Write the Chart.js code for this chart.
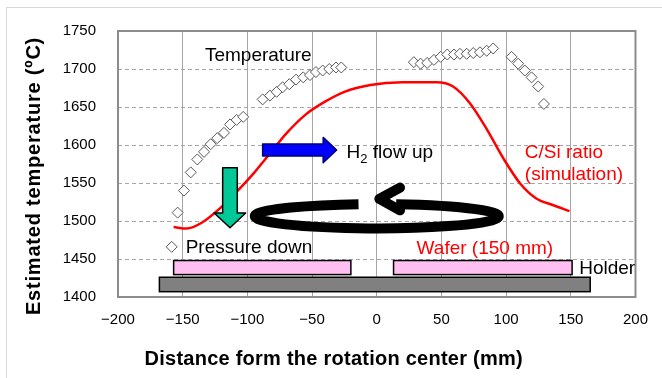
<!DOCTYPE html>
<html>
<head>
<meta charset="utf-8">
<script src="https://cdn.jsdelivr.net/npm/chart.js@4.4.0/dist/chart.umd.min.js"></script>
<style>
  html, body { margin: 0; padding: 0; background: #fff; }
  #wrap { width: 662px; height: 378px; }
</style>
</head>
<body>
<div id="wrap"><canvas id="chart" width="662" height="378"></canvas></div>
<script>
// measured temperature along the radius (open diamonds)
const tempX = [-158.5, -153.9, -149, -143.8, -138.7, -133.5, -128.4, -123.3, -118.1, -113.4, -108.3, -103.2,
  -88.2, -82.5, -77.4, -72.7, -67.6, -62.4, -56.8, -51.6, -47, -41.8, -36.7, -31.5, -27.4,
  28.7, 33.9, 39, 44.2, 49.4, 54.5, 59.7, 64.3, 69.5, 74.6, 79.8, 85, 90,
  104.2, 109.3, 114.5, 119.7, 124.8, 129.2];
const tempY = [1466, 1511, 1540, 1564, 1581, 1591, 1601, 1609, 1616, 1627, 1633, 1637,
  1660, 1665, 1670, 1676, 1680, 1686, 1689, 1692, 1696, 1698, 1700, 1702, 1702,
  1709, 1707, 1708, 1712, 1716, 1719, 1719, 1720, 1720, 1721, 1722, 1724, 1727,
  1716, 1707, 1698, 1689, 1677, 1654];

// C/Si ratio from simulation (red curve, drawn on the same scale)
const ratioX = [-157, -147, -135, -121, -108, -95, -82, -70, -55, -40, -25, -5, 20, 46, 59, 72, 85, 98, 111, 123, 136, 149];
const ratioY = [1492, 1490, 1498, 1517, 1539, 1563, 1590, 1615, 1640, 1657, 1670, 1679, 1682.5, 1682.5, 1677, 1655, 1621, 1582, 1549, 1530, 1521, 1513];

const xTicks = [-200, -150, -100, -50, 0, 50, 100, 150, 200];
const yTicks = [1400, 1450, 1500, 1550, 1600, 1650, 1700, 1750];

const FONT = '"Liberation Sans", Arial, sans-serif';

// schematic drawn on top, in data units
const boxes = [
  { x0: -168, x1: 165, y0: 1407, y1: 1426, fill: '#808080' },   // holder
  { x0: -157, x1: -20, y0: 1429.5, y1: 1448, fill: '#ffbff0' }, // wafer
  { x0: 13, x1: 151, y0: 1429.5, y1: 1448, fill: '#ffbff0' }
];
const notes = [
  { text: 'Temperature', x: -132.8, y: 1710, color: '#000' },
  { text: 'Pressure down', x: -147.7, y: 1457.4, color: '#000' },
  { text: 'C/Si ratio', x: 114.5, y: 1582.8, color: '#ff0000' },
  { text: '(simulation)', x: 114.5, y: 1554, color: '#ff0000' },
  { text: 'Wafer (150 mm)', x: 30.8, y: 1457, color: '#ff0000' },
  { text: 'Holder', x: 156.5, y: 1430.7, color: '#000' }
];
const blueArrow = [[-88.2, 1601.3], [-41.4, 1601.3], [-41.4, 1610], [-31, 1593.4], [-41.4, 1576.7], [-41.4, 1585.4], [-88.2, 1585.4]];
const greenArrow = [[-119.1, 1570.2], [-107.8, 1570.2], [-107.8, 1510.6], [-101.3, 1510.6], [-113.4, 1491.1], [-125.7, 1510.6], [-119.1, 1510.6]];

function poly(ctx, sx, sy, pts, fill, stroke) {
  ctx.beginPath();
  pts.forEach((p, i) => {
    const X = sx.getPixelForValue(p[0]), Y = sy.getPixelForValue(p[1]);
    i ? ctx.lineTo(X, Y) : ctx.moveTo(X, Y);
  });
  ctx.closePath();
  ctx.fillStyle = fill;
  ctx.fill();
  ctx.lineWidth = 1.5;
  ctx.strokeStyle = stroke;
  ctx.stroke();
}

const frame = {
  id: 'frame',
  beforeDraw(chart) {
    const ctx = chart.ctx;
    ctx.save();
    ctx.fillStyle = '#fff';
    ctx.fillRect(0, 0, chart.width, chart.height);
    ctx.strokeStyle = '#d9d9d9';
    ctx.lineWidth = 1;
    ctx.strokeRect(6.5, 7.5, chart.width + 10, chart.height + 10);
    ctx.restore();
  },
  beforeDatasetsDraw(chart) {
    const { ctx, chartArea: a } = chart;
    ctx.save();
    ctx.strokeStyle = '#8c8c8c';
    ctx.lineWidth = 2;
    ctx.strokeRect(a.left, a.top, a.right - a.left, a.bottom - a.top);
    ctx.restore();
  },
  afterDatasetsDraw(chart) {
    const ctx = chart.ctx;
    const sx = chart.scales.x, sy = chart.scales.y;
    ctx.save();

    boxes.forEach(b => {
      const l = sx.getPixelForValue(b.x0), r = sx.getPixelForValue(b.x1);
      const t = sy.getPixelForValue(b.y1), btm = sy.getPixelForValue(b.y0);
      ctx.fillStyle = b.fill;
      ctx.fillRect(l, t, r - l, btm - t);
      ctx.lineWidth = 1.5;
      ctx.strokeStyle = '#000';
      ctx.strokeRect(l, t, r - l, btm - t);
    });

    // rotation ellipse with arrow head
    const cx = sx.getPixelForValue(0), cy = sy.getPixelForValue(1506.3);
    const rx = sx.getPixelForValue(94.3) - cx, ry = cy - sy.getPixelForValue(1522.3);
    ctx.lineWidth = 10;
    ctx.strokeStyle = '#000';
    ctx.beginPath();
    ctx.ellipse(cx, cy, rx, ry, 0, -Math.PI / 2 + 0.16, Math.PI * 1.5 - 0.15);
    ctx.stroke();
    ctx.lineCap = 'round';
    ctx.lineJoin = 'round';
    ctx.beginPath();
    ctx.moveTo(sx.getPixelForValue(18), sy.getPixelForValue(1544));
    ctx.lineTo(sx.getPixelForValue(2), sy.getPixelForValue(1529));
    ctx.lineTo(sx.getPixelForValue(18), sy.getPixelForValue(1514));
    ctx.stroke();

    poly(ctx, sx, sy, blueArrow, '#0000ff', '#00006e');
    poly(ctx, sx, sy, greenArrow, '#00c896', '#000');

    ctx.textBaseline = 'alphabetic';
    ctx.textAlign = 'left';
    ctx.font = '19px ' + FONT;
    notes.forEach(n => {
      ctx.fillStyle = n.color;
      ctx.fillText(n.text, sx.getPixelForValue(n.x), sy.getPixelForValue(n.y));
    });

    // H2 flow up with subscript
    let hx = sx.getPixelForValue(-23.3);
    const hy = sy.getPixelForValue(1582.8);
    ctx.fillStyle = '#000';
    ctx.fillText('H', hx, hy);
    hx += ctx.measureText('H').width;
    ctx.font = '13px ' + FONT;
    ctx.fillText('2', hx, hy + 5);
    hx += ctx.measureText('2').width;
    ctx.font = '19px ' + FONT;
    ctx.fillText(' flow up', hx, hy);
    ctx.restore();
  },
  afterDraw(chart) {
    const { ctx, chartArea: a } = chart;
    ctx.save();
    ctx.fillStyle = '#000';
    ctx.font = 'bold 20px ' + FONT;
    ctx.textAlign = 'center';
    ctx.textBaseline = 'alphabetic';
    ctx.letterSpacing = '0.25px';
    ctx.fillText('Distance form the rotation center (mm)', (a.left + a.right) / 2 - 43, 365);
    ctx.letterSpacing = '0.8px';
    ctx.translate(34, 176);
    ctx.rotate(-Math.PI / 2);
    ctx.textBaseline = 'middle';
    ctx.fillText('Estimated temperature (\u00baC)', 0, 0);
    ctx.restore();
  }
};

new Chart(document.getElementById('chart'), {
  type: 'scatter',
  data: {
    datasets: [
      {
        label: 'C/Si ratio',
        data: ratioX.map((x, i) => ({ x, y: ratioY[i] })),
        showLine: true,
        borderColor: '#ff0000',
        borderWidth: 2.5,
        pointRadius: 0,
        cubicInterpolationMode: 'monotone',
        fill: false
      },
      {
        label: 'Temperature',
        data: tempX.map((x, i) => ({ x, y: tempY[i] })),
        pointStyle: 'rectRot',
        pointRadius: 5.5,
        pointBackgroundColor: '#fff',
        pointBorderColor: '#5a5a5a',
        pointBorderWidth: 1
      }
    ]
  },
  options: {
    responsive: false,
    animation: false,
    layout: { padding: { left: 0, top: 27, right: 26, bottom: 0 } },
    plugins: {
      legend: { display: false },
      tooltip: { enabled: false }
    },
    scales: {
      x: {
        type: 'linear',
        min: -200,
        max: 200,
        afterBuildTicks: s => { s.ticks = xTicks.map(v => ({ value: v })); },
        afterFit: s => { s.height = 81; },
        grid: { color: '#a6a6a6', lineWidth: 1, drawTicks: false },
        border: { display: false },
        ticks: {
          autoSkip: false,
          maxRotation: 0,
          padding: 14,
          color: '#000',
          font: { family: FONT, size: 15 },
          callback: v => String(v).replace('-', '\u2212')
        }
      },
      y: {
        min: 1400,
        max: 1750,
        afterBuildTicks: s => { s.ticks = yTicks.map(v => ({ value: v })); },
        afterFit: s => { s.width = 118; },
        grid: { color: '#a6a6a6', lineWidth: 1, drawTicks: false },
        border: { display: false, dash: [4, 3] },
        ticks: {
          autoSkip: false,
          padding: 22,
          color: '#000',
          font: { family: FONT, size: 15 },
          callback: v => String(v)
        }
      }
    }
  },
  plugins: [frame]
});
</script>
</body>
</html>
